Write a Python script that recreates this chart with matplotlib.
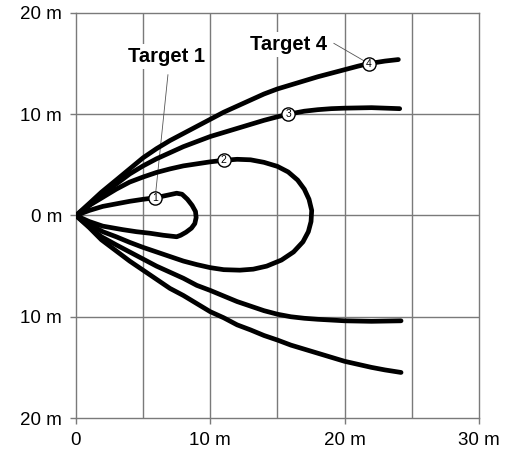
import numpy as np
import matplotlib.pyplot as plt

plt.rcParams['font.family'] = ['Liberation Sans', 'DejaVu Sans']

# detection lobes (metres)
t1_x = [0, 1, 2, 3, 4, 5, 5.9, 6.8, 7.5, 7.9, 8.3, 8.65, 8.9, 8.95, 8.85, 8.6, 8.2, 7.8, 7.5, 6.5, 5.5, 4.5, 3.5, 2, 1, 0]
t1_y = [0, 0.5, 0.9, 1.15, 1.4, 1.6, 1.75, 2.0, 2.2, 2.1, 1.6, 1.0, 0.4, -0.2, -0.8, -1.25, -1.65, -1.95, -2.1, -1.95, -1.75, -1.6, -1.4, -1.05, -0.6, 0]

t2_x = [0, 1, 2, 3, 4, 5, 6, 7, 8, 9, 10, 11, 12, 13, 14, 15, 15.8, 16.5, 17.0, 17.35,
        17.55, 17.5, 17.3, 16.9, 16.2, 15.3, 14.2, 13.2, 12.2, 11, 10, 9, 8, 7, 6, 5, 4, 3, 2, 1, 0]
t2_y = [0, 1.0, 1.8, 2.6, 3.3, 3.8, 4.25, 4.6, 4.9, 5.1, 5.3, 5.45, 5.55, 5.5, 5.25, 4.85, 4.3, 3.5, 2.6, 1.6,
        0.5, -0.6, -1.6, -2.6, -3.6, -4.4, -5.0, -5.3, -5.4, -5.35, -5.15, -4.85, -4.5, -4.05, -3.6, -3.15, -2.65, -2.1, -1.6, -0.85, 0]

t3_top_x = [0, 1, 1.9, 3, 4, 5, 6, 7, 8, 9, 10, 11, 12, 13, 14, 15, 15.8, 17, 18, 19, 20, 22, 24.1]
t3_top_y = [0, 1.0, 2.0, 3.1, 4.1, 4.9, 5.6, 6.2, 6.8, 7.3, 7.8, 8.2, 8.6, 9.0, 9.4, 9.75, 10.0, 10.3, 10.45, 10.55, 10.6, 10.65, 10.55]
t3_bot_x = [0, 1, 1.9, 3, 4, 5, 6, 7, 8, 9, 10, 11, 12, 13, 14, 15, 16, 17, 18, 20, 22, 24.2]
t3_bot_y = [0, -1.1, -2.1, -2.9, -3.6, -4.3, -5.0, -5.6, -6.2, -6.9, -7.4, -7.95, -8.5, -8.95, -9.4, -9.75, -10.0, -10.15, -10.25, -10.4, -10.45, -10.4]

t4_top_x = [0, 1, 1.9, 3, 4, 5, 6, 7, 8, 9, 10, 11, 12, 13, 14, 15, 16, 17, 18, 19, 20, 21, 21.8, 23, 24.0]
t4_top_y = [0, 1.2, 2.3, 3.5, 4.6, 5.7, 6.6, 7.4, 8.1, 8.8, 9.5, 10.2, 10.8, 11.4, 12.0, 12.5, 12.9, 13.3, 13.7, 14.05, 14.4, 14.75, 15.0, 15.25, 15.4]
t4_bot_x = [0, 1, 1.9, 3, 4, 5, 6, 7, 8, 9, 10, 11, 12, 13, 14, 15, 16, 17, 18, 19, 20, 21, 22, 23, 24.2]
t4_bot_y = [0, -1.2, -2.4, -3.5, -4.5, -5.4, -6.3, -7.2, -7.9, -8.7, -9.5, -10.1, -10.8, -11.3, -11.85, -12.3, -12.8, -13.2, -13.6, -14.0, -14.4, -14.7, -15.0, -15.25, -15.5]

# numbered markers on each lobe
marker_x = [5.9, 11.0, 15.8, 21.8]
marker_y = [1.75, 5.45, 10.0, 15.0]
marker_lbl = ['1', '2', '3', '4']

xticks = [0, 10, 20, 30]
xtick_lbl = ['0', '10 m', '20 m', '30 m']
yticks = [20, 10, 0, -10, -20]
ytick_lbl = ['20 m', '10 m', '0 m', '10 m', '20 m']

fig = plt.figure(figsize=(5.06, 4.57), dpi=100)
ax = fig.add_axes([0.150, 0.0853, 0.7966, 0.8863])

grid_c = '#7a7a7a'
for gx in np.arange(5, 30, 5):
    ax.axvline(gx, color=grid_c, lw=1.0, zorder=1)
for gy in [-10, 0, 10]:
    ax.axhline(gy, color=grid_c, lw=1.0, zorder=1)

lw = 3.4
for xs, ys in [(t1_x, t1_y), (t2_x, t2_y), (t3_top_x, t3_top_y), (t3_bot_x, t3_bot_y),
               (t4_top_x, t4_top_y), (t4_bot_x, t4_bot_y)]:
    ax.plot(xs, ys, color='black', lw=lw, solid_joinstyle='round',
            solid_capstyle='round', zorder=3)

# leader lines
ax.plot([6.85, marker_x[0]], [13.9, marker_y[0]], color='#555555', lw=0.6, zorder=2)
ax.plot([19.2, marker_x[3]], [17.0, marker_y[3]], color='#555555', lw=0.6, zorder=2)

ax.plot(marker_x, marker_y, 'o', ms=9.5, mfc='white', mec='black', mew=1.0,
        zorder=5, ls='none')
for mx, my, ml in zip(marker_x, marker_y, marker_lbl):
    ax.text(mx, my, ml, ha='center', va='center', fontsize=7.5, zorder=6)

ax.text(6.75, 15.7, 'Target 1', ha='center', va='center', fontsize=14.5,
        fontweight='bold', zorder=4,
        bbox=dict(facecolor='white', edgecolor='none', pad=2))
ax.text(15.8, 16.9, 'Target 4', ha='center', va='center', fontsize=14.5,
        fontweight='bold', zorder=4,
        bbox=dict(facecolor='white', edgecolor='none', pad=2))

ax.set_xlim(0, 30)
ax.set_ylim(-20, 20)
ax.set_xticks(xticks)
ax.set_xticklabels(xtick_lbl)
ax.set_yticks(yticks)
ax.set_yticklabels(ytick_lbl)
ax.tick_params(axis='both', length=4, width=1.0, color=grid_c,
               labelsize=13.5, pad=6)
for sp in ax.spines.values():
    sp.set_color(grid_c)
    sp.set_linewidth(1.0)

fig.savefig('out.png', dpi=100)
